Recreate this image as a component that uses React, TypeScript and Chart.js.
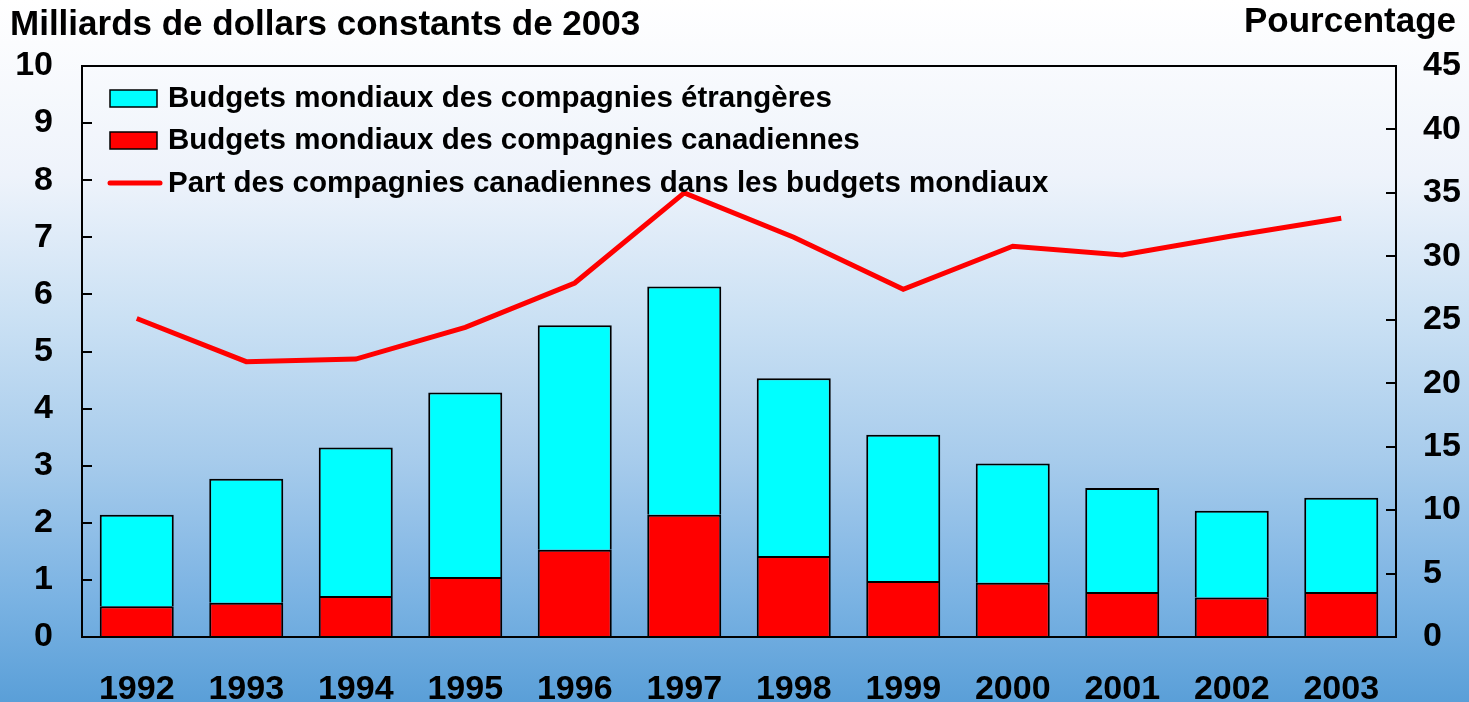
import React, { useEffect, useRef } from "react";
import { Chart, registerables } from "chart.js";

Chart.register(...registerables);

const years = ["1992", "1993", "1994", "1995", "1996", "1997", "1998", "1999", "2000", "2001", "2002", "2003"];
const canadianBudgets = [0.54, 0.6, 0.72, 1.05, 1.53, 2.14, 1.42, 0.98, 0.95, 0.79, 0.69, 0.79];
const foreignBudgets = [1.6, 2.17, 2.6, 3.23, 3.93, 4.0, 3.11, 2.56, 2.09, 1.82, 1.52, 1.65];
const canadianShare = [25.1, 21.7, 21.9, 24.4, 27.9, 35.0, 31.5, 27.4, 30.8, 30.1, 31.6, 33.0];

const leftTitle = "Milliards de dollars constants de 2003";
const rightTitle = "Pourcentage";
const legendLabels = [
  "Budgets mondiaux des compagnies étrangères",
  "Budgets mondiaux des compagnies canadiennes",
  "Part des compagnies canadiennes dans les budgets mondiaux",
];

const FONT = "'Liberation Sans', Arial, sans-serif";

const decorPlugin = {
  id: "decor",
  beforeDraw(chart: any) {
    const { ctx, width, height } = chart;
    const g = ctx.createLinearGradient(0, 0, 0, height);
    g.addColorStop(0, "#ffffff");
    g.addColorStop(0.25, "#eef3fb");
    g.addColorStop(0.45, "#cbe1f4");
    g.addColorStop(0.65, "#a8ccec");
    g.addColorStop(0.85, "#7bb3e3");
    g.addColorStop(1, "#5a9fd8");
    ctx.save();
    ctx.fillStyle = g;
    ctx.fillRect(0, 0, width, height);
    ctx.restore();
  },
  afterDatasetsDraw(chart: any) {
    const { ctx, chartArea } = chart;
    const { left, right, top, bottom } = chartArea;
    ctx.save();
    ctx.strokeStyle = "#000";
    ctx.lineWidth = 2;
    ctx.strokeRect(left, top, right - left, bottom - top);
    const yL = chart.scales.y;
    const yR = chart.scales.y1;
    ctx.beginPath();
    yL.ticks.forEach((t: any) => {
      const p = Math.round(yL.getPixelForValue(t.value));
      ctx.moveTo(left, p);
      ctx.lineTo(left + 10, p);
    });
    yR.ticks.forEach((t: any) => {
      const p = Math.round(yR.getPixelForValue(t.value));
      ctx.moveTo(right, p);
      ctx.lineTo(right - 10, p);
    });
    ctx.stroke();
    ctx.restore();
  },
  afterDraw(chart: any) {
    const { ctx } = chart;
    ctx.save();
    ctx.fillStyle = "#000";
    ctx.font = `bold 35px ${FONT}`;
    ctx.textBaseline = "middle";
    ctx.textAlign = "left";
    ctx.fillText(leftTitle, 10, 25);
    ctx.textAlign = "right";
    ctx.fillText(rightTitle, 1456, 22);

    ctx.font = `bold 29.5px ${FONT}`;
    ctx.textAlign = "left";
    const rows = [98, 140, 183];
    const colors = ["#00ffff", "#ff0000"];
    for (let i = 0; i < 3; i++) {
      const y = rows[i];
      if (i < 2) {
        ctx.fillStyle = colors[i];
        ctx.fillRect(110, y - 8, 47, 17);
        ctx.strokeStyle = "#000";
        ctx.lineWidth = 1.5;
        ctx.strokeRect(110, y - 8, 47, 17);
      } else {
        ctx.strokeStyle = "#ff0000";
        ctx.lineWidth = 5;
        ctx.lineCap = "round";
        ctx.beginPath();
        ctx.moveTo(110, y);
        ctx.lineTo(160, y);
        ctx.stroke();
      }
      ctx.fillStyle = "#000";
      ctx.fillText(legendLabels[i], 168, y + 1);
    }
    ctx.restore();
  },
};

export default function App() {
  const ref = useRef<HTMLCanvasElement>(null);
  useEffect(() => {
    document.body.style.margin = "0";
    const chart = new Chart(ref.current!, {
      type: "bar",
      data: {
        labels: years,
        datasets: [
          {
            type: "line",
            label: legendLabels[2],
            data: canadianShare,
            yAxisID: "y1",
            borderColor: "#ff0000",
            borderWidth: 5,
            pointRadius: 0,
            tension: 0,
            order: 0,
          } as any,
          {
            label: legendLabels[1],
            data: canadianBudgets,
            backgroundColor: "#ff0000",
            borderColor: "#000",
            borderWidth: 2,
            yAxisID: "y",
            stack: "s",
            barPercentage: 0.676,
            categoryPercentage: 1,
            order: 1,
          },
          {
            label: legendLabels[0],
            data: foreignBudgets,
            backgroundColor: "#00ffff",
            borderColor: "#000",
            borderWidth: 2,
            yAxisID: "y",
            stack: "s",
            barPercentage: 0.676,
            categoryPercentage: 1,
            order: 1,
          },
        ],
      },
      options: {
        animation: false,
        responsive: false,
        layout: { padding: { top: 66, right: 0, left: 0, bottom: 0 } },
        plugins: { legend: { display: false }, tooltip: { enabled: false } },
        scales: {
          x: {
            stacked: true,
            grid: { display: false, drawTicks: false },
            border: { display: false },
            ticks: {
              color: "#000",
              font: { family: FONT, size: 34, weight: "bold" },
              padding: 32,
              maxRotation: 0,
            },
            afterFit(s: any) {
              s.height = 65;
            },
          },
          y: {
            position: "left",
            stacked: true,
            min: 0,
            max: 10,
            grid: { display: false, drawTicks: false },
            border: { display: false },
            ticks: {
              stepSize: 1,
              color: "#000",
              font: { family: FONT, size: 34, weight: "bold" },
              padding: 29,
            },
            afterFit(s: any) {
              s.width = 82;
            },
          },
          y1: {
            position: "right",
            min: 0,
            max: 45,
            grid: { display: false, drawTicks: false },
            border: { display: false },
            ticks: {
              stepSize: 5,
              color: "#000",
              font: { family: FONT, size: 34, weight: "bold" },
              padding: 27,
            },
            afterFit(s: any) {
              s.width = 73;
            },
          },
        },
      },
      plugins: [decorPlugin],
    });
    return () => chart.destroy();
  }, []);
  return (
    <div style={{ width: 1469, height: 702 }}>
      <canvas ref={ref} width={1469} height={702} style={{ display: "block" }} />
    </div>
  );
}
